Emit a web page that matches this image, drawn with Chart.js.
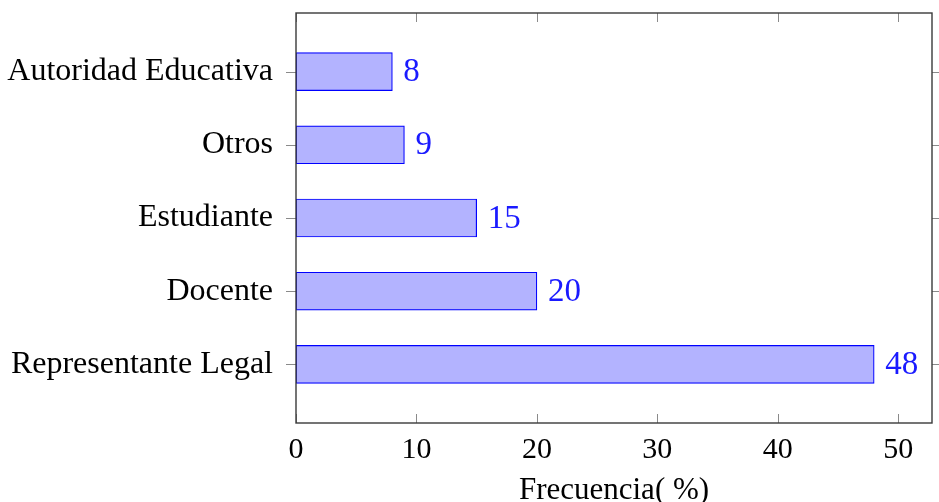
<!DOCTYPE html>
<html>
<head>
<meta charset="utf-8">
<script src="https://cdn.jsdelivr.net/npm/chart.js@4"></script>
<style>
  html, body { margin: 0; padding: 0; background: #fff; }
  #wrap { width: 939px; height: 502px; }
</style>
</head>
<body>
<div id="wrap"><canvas id="chart" width="939" height="502"></canvas></div>
<script>
// data, top to bottom as in the picture
const categories = ["Autoridad Educativa", "Otros", "Estudiante", "Docente", "Representante Legal"];
const frecuencias = [8, 9, 15, 20, 48];
const xTicks = [0, 10, 20, 30, 40, 50];
const xTitle = "Frecuencia( %)";

const serif = "'Liberation Serif', 'Times New Roman', serif";
const axisColor = "#3a3a3a";
const tickColor = "#8a8a8a";

// frame + pgfplots style tick marks
const framePlugin = {
    id: "frame",
    afterDraw(chart) {
        const { ctx, chartArea: a, scales } = chart;
        ctx.save();
        ctx.strokeStyle = tickColor;
        ctx.lineWidth = 1;
        scales.x.ticks.forEach(t => {
            const px = Math.round(scales.x.getPixelForValue(t.value)) + 0.5;
            ctx.beginPath();
            ctx.moveTo(px, a.bottom); ctx.lineTo(px, a.bottom - 9);
            ctx.moveTo(px, a.top); ctx.lineTo(px, a.top + 9);
            ctx.stroke();
        });
        scales.y.ticks.forEach(t => {
            const py = Math.round(scales.y.getPixelForValue(t.value)) + 0.5;
            ctx.beginPath();
            ctx.moveTo(a.left, py); ctx.lineTo(a.left - 10, py);
            ctx.moveTo(a.right, py); ctx.lineTo(a.right + 10, py);
            ctx.stroke();
        });
        ctx.strokeStyle = axisColor;
        ctx.lineWidth = 1.4;
        ctx.strokeRect(a.left, a.top, a.right - a.left, a.bottom - a.top);
        ctx.restore();
    }
};

// value next to each bar
const valuePlugin = {
    id: "values",
    afterDatasetsDraw(chart) {
        const { ctx } = chart;
        const meta = chart.getDatasetMeta(0);
        ctx.save();
        ctx.font = "33px " + serif;
        ctx.fillStyle = "#1a1aff";
        ctx.textAlign = "left";
        ctx.textBaseline = "middle";
        meta.data.forEach((bar, i) => {
            ctx.fillText(String(frecuencias[i]), bar.x + 11, bar.y + 1);
        });
        ctx.restore();
    }
};

new Chart(document.getElementById("chart"), {
    type: "bar",
    data: {
        datasets: [{
            data: frecuencias.map((v, i) => ({ x: v, y: i })),
            backgroundColor: "#b3b3ff",
            borderColor: "#0000ff",
            borderWidth: 1.2,
            borderSkipped: false,
            barThickness: 38
        }]
    },
    options: {
        indexAxis: "y",
        responsive: false,
        animation: false,
        layout: { autoPadding: false, padding: { top: 13, right: 7, left: 0, bottom: 0 } },
        plugins: { legend: { display: false }, tooltip: { enabled: false }, title: { display: false } },
        scales: {
            x: {
                type: "linear",
                min: 0,
                max: 52.8,
                grid: { display: false, drawTicks: false },
                border: { display: false },
                afterBuildTicks: s => { s.ticks = xTicks.map(v => ({ value: v })); },
                afterFit: s => { s.height = 79; s.paddingLeft = 0; s.paddingRight = 0; },
                ticks: {
                    font: { family: serif, size: 30 },
                    color: "#000",
                    padding: 9,
                    maxRotation: 0
                },
                title: {
                    display: true,
                    text: xTitle,
                    font: { family: serif, size: 31 },
                    color: "#000",
                    padding: { top: 0, bottom: -7 }
                }
            },
            y: {
                type: "linear",
                min: -0.8,
                max: 4.8,
                offset: false,
                reverse: true,
                grid: { display: false, drawTicks: false },
                border: { display: false },
                afterBuildTicks: s => { s.ticks = categories.map((c, i) => ({ value: i })); },
                afterFit: s => { s.width = 296; s.paddingTop = 0; s.paddingBottom = 0; },
                ticks: {
                    autoSkip: false,
                    font: { family: serif, size: 32 },
                    color: "#000",
                    padding: 23,
                    callback: v => categories[v]
                }
            }
        }
    },
    plugins: [framePlugin, valuePlugin]
});
</script>
</body>
</html>
